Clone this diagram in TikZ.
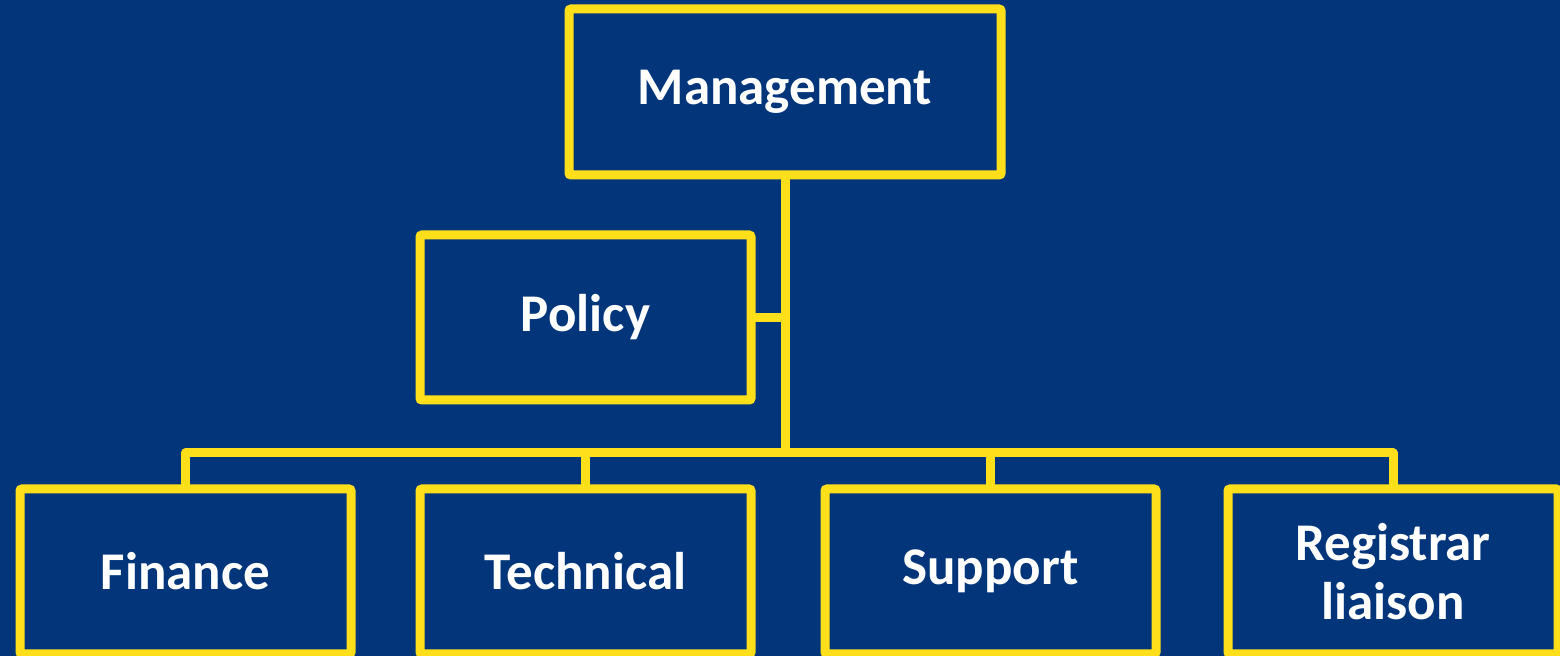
\documentclass[tikz,border=0pt]{standalone}
\usepackage{fontspec}
\setmainfont{Carlito}
\definecolor{navy}{HTML}{03357A}
\definecolor{gold}{HTML}{FFDF1A}
\begin{document}
\begin{tikzpicture}[x=0.5pt,y=-0.5pt,
  box/.style={draw=gold, line width=4.5pt, rounded corners=1pt, fill=navy,
    text=white, font=\fontsize{26.5}{29.5}\selectfont\bfseries, align=center,
    inner sep=0pt, outer sep=0pt, anchor=center},
  link/.style={draw=gold, line width=4.5pt, line join=round}]
\fill[navy] (0,0) rectangle (1560,656);
\useasboundingbox (0,0) rectangle (1560,656);
\node[box, minimum width=216pt, minimum height=83pt] (mgmt) at (785,92) {Management};
\node[box, minimum width=165.5pt, minimum height=82.5pt] (pol) at (585.5,317.5) {Policy};
\node[box, minimum width=165.5pt, minimum height=82.5pt] (fin) at (185.5,571.5) {Finance};
\node[box, minimum width=165.5pt, minimum height=82.5pt] (tec) at (585.5,571.5) {Technical};
\node[box, minimum width=165.5pt, minimum height=82.5pt] (sup) at (990.5,571.5) {Support};
\node[box, minimum width=165pt, minimum height=82.5pt] (reg) at (1393,571.5) {Registrar\\liaison};
\coordinate (bus) at (785,453);
\coordinate (pj) at (785,317.5);
\draw[link] (mgmt.south) -- (bus);
\draw[link] (pol.east) -- (pj);
\draw[link] (bus) -| (fin.north);
\draw[link] (bus) -| (tec.north);
\draw[link] (bus) -| (sup.north);
\draw[link] (bus) -| (reg.north);
\end{tikzpicture}
\end{document}
